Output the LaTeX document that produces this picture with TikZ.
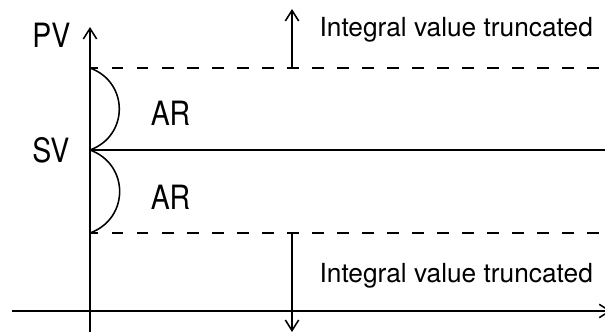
\documentclass[tikz,border=0pt]{standalone}
\usepackage{fontspec}
\setmainfont{TeX Gyre Heros}
\newfontfamily\lblfont{TeX Gyre Heros}[FakeStretch=0.85]
\usetikzlibrary{arrows.meta, positioning}

\begin{document}
\begin{tikzpicture}
            \tikzset{edge/.style = {-{Straight Barb[length=7.5pt,width=9.5pt]}},
                     lbl/.style = {inner sep=0pt, font=\lblfont\fontsize{23.8}{26}\selectfont},
                     txt/.style = {inner sep=0pt, font=\fontsize{18.7}{21}\selectfont},
                     dash line/.style = {dash pattern=on 8.3pt off 9.5pt, dash phase=2.3pt}}
            \useasboundingbox (-2.25,-0.55) rectangle (12.875,7.775);
            \begin{scope}[line width=1.1pt]
            % vertices
            \coordinate (yb) at (0,-0.525);
            \coordinate (yt) at (0,7.1);
            \coordinate (xl) at (-1.95,0);
            \coordinate (xr) at (13.03,0);
            \coordinate (hi) at (0,6.075);
            \coordinate (hir) at (12.875,6.075);
            \coordinate (sv) at (0,4.025);
            \coordinate (svr) at (12.875,4.025);
            \coordinate (lo) at (0,1.95);
            \coordinate (lor) at (12.875,1.95);
            \coordinate (ua) at (5.05,6.075);
            \coordinate (uat) at (5.05,7.55);
            \coordinate (la) at (5.05,1.95);
            \coordinate (lat) at (5.05,-0.525);
            \node[lbl, anchor=base east] (pvt) at (-0.475,6.575) {PV};
            \node[lbl, anchor=base east] (svt) at (-0.5,3.7) {SV};
            \node[lbl, anchor=base west] (ar1) at (1.5,4.625) {AR};
            \node[lbl, anchor=base west] (ar2) at (1.5,2.525) {AR};
            \node[txt, anchor=base west] (ut) at (5.72,6.85) {Integral value truncated};
            \node[txt, anchor=base west] (lt) at (5.72,0.7) {Integral value truncated};
            %edges
            \draw[edge] (yb) to (yt);
            \draw[edge] (xl) to (xr);
            \draw[dash line] (hi) to (hir);
            \draw[-] (sv) to (svr);
            \draw[dash line] (lo) to (lor);
            \draw[-] (hi) to[out=-20,in=20,looseness=1.3] (sv);
            \draw[-] (sv) to[out=-20,in=20,looseness=1.3] (lo);
            \draw[edge] (ua) to (uat);
            \draw[edge] (la) to (lat);
            \end{scope}
        \end{tikzpicture}
\end{document}
